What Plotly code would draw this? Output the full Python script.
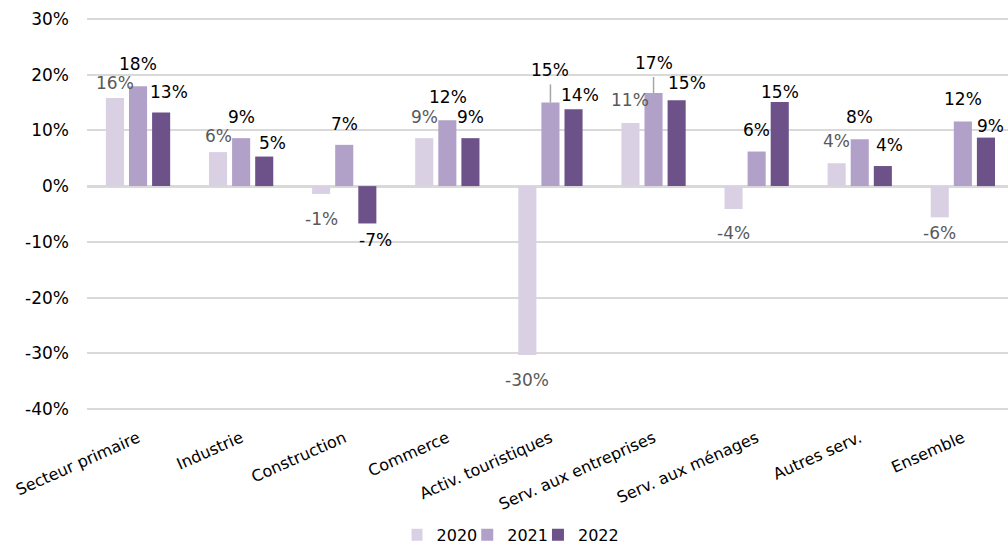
import plotly.graph_objects as go

# Sector growth rates, in percent
categories = ["Secteur primaire", "Industrie", "Construction", "Commerce",
              "Activ. touristiques", "Serv. aux entreprises", "Serv. aux ménages",
              "Autres serv.", "Ensemble"]
years = ["2020", "2021", "2022"]
values_2020 = [15.8, 6.1, -1.4, 8.6, -30.3, 11.3, -4.1, 4.1, -5.6]
values_2021 = [17.9, 8.6, 7.4, 11.8, 15.0, 16.7, 6.2, 8.4, 11.6]
values_2022 = [13.2, 5.3, -6.7, 8.6, 13.8, 15.4, 15.1, 3.6, 8.7]
y_ticks = [-40, -30, -20, -10, 0, 10, 20, 30]
y_tick_labels = [f"{t}%" for t in y_ticks]

series = [values_2020, values_2021, values_2022]
colors = ["#D9D1E3", "#B1A0C7", "#6C5289"]
label_colors = ["#595959", "#000000", "#000000"]

# Label nudges in pixels: (horizontal, distance of label centre from bar end)
label_dx = [
    [0, 0, 0, 0, 0, 0, 0, 0, 0],
    [0, 0, 0, 1, 0, 0, 0, 0, 0],
    [8, 8, 8, 0, 6, 10, 0, 7, 5],
]
label_dy = [
    [15, 16, 25, 21, 25, 23, 24, 22, 16],
    [22, 21, 21, 23, 32, 30, 22, 22, 22],
    [20, 14, 17, 21, 14, 17, 10, 21, 12],
]
# 2021 labels lifted high enough to need a leader line
leader_2021 = {4: 18, 5: 16}

BARGAP = 0.328
BARGROUPGAP = 0.217
FONT = "DejaVu Sans, Verdana, sans-serif"

fig = go.Figure()
for k, (yr, vals) in enumerate(zip(years, series)):
    fig.add_trace(go.Bar(
        name=yr, x=categories, y=vals,
        marker=dict(color=colors[k], line=dict(width=0)),
        hoverinfo="x+y+name",
    ))

slot = (1 - BARGAP) / len(series)
annotations = []
for k, vals in enumerate(series):
    for i, v in enumerate(vals):
        sign = 1 if v >= 0 else -1
        annotations.append(dict(
            x=i + (k - 1) * slot, y=v, xref="x", yref="y",
            text=f"{round(v):.0f}%", showarrow=False,
            xanchor="center", yanchor="middle",
            xshift=label_dx[k][i], yshift=sign * label_dy[k][i],
            font=dict(family=FONT, size=17, color=label_colors[k]),
        ))

shapes = []
for i, length in leader_2021.items():
    shapes.append(dict(
        type="line", xref="x", yref="y",
        x0=i, x1=i, ysizemode="pixel", yanchor=values_2021[i],
        y0=0, y1=length,
        line=dict(color="#A6A6A6", width=1.5),
    ))

fig.update_layout(
    width=1008, height=547,
    margin=dict(l=87, r=0, t=16, b=135, autoexpand=False),
    paper_bgcolor="white", plot_bgcolor="white",
    barmode="group", bargap=BARGAP, bargroupgap=BARGROUPGAP,
    font=dict(family=FONT, size=16, color="#000000"),
    annotations=annotations,
    shapes=shapes,
    showlegend=True,
    legend=dict(
        orientation="h", x=0.468, xanchor="center", y=-0.31, yanchor="middle",
        font=dict(family=FONT, size=16, color="#000000"),
        itemwidth=30, indentation=-15, traceorder="normal",
    ),
    xaxis=dict(
        type="category", range=[-0.495, 8.438], automargin=False,
        tickangle=-24, tickfont=dict(family=FONT, size=16, color="#000000"),
        showgrid=False, showline=False, zeroline=False, ticks="",
        ticklabelstandoff=13,
    ),
    yaxis=dict(
        range=[-40.5, 30.5], tickvals=y_ticks, ticktext=y_tick_labels,
        automargin=False,
        tickfont=dict(family=FONT, size=17, color="#000000"),
        showgrid=True, gridcolor="#D9D9D9", gridwidth=1.5,
        zeroline=True, zerolinecolor="#D9D9D9", zerolinewidth=2.5,
        showline=False, ticks="", ticklabelstandoff=17,
    ),
)

fig.write_html("out.html")
